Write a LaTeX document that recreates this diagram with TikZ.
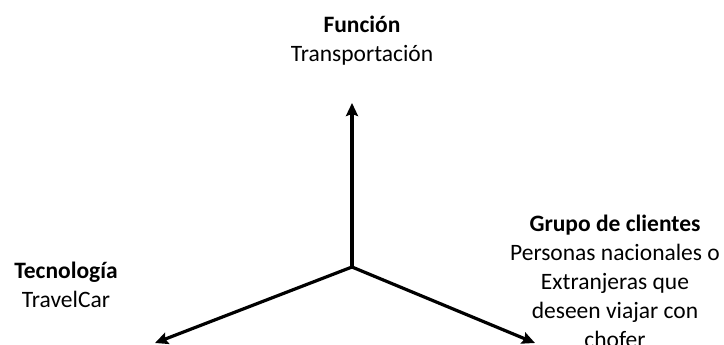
\documentclass[tikz,border=0pt]{standalone}
\usepackage{fontspec}
\setmainfont{Carlito}
\usetikzlibrary{
  arrows.meta,
  positioning,  % Function "of" (e.g. [right=of x])
}
\tikzset{
  x=1pt,
  y=-1pt,
  >={Stealth[length=13pt,width=12pt,inset=2pt]},
  axis/.style={
    ->,
    line width=3.2pt
  },
  label box/.style={
    align=center,
    inner sep=0pt,
    anchor=base,  % baseline of the last line
    font=\fontsize{23.5}{29}\selectfont
  }
}
\begin{document}
\begin{tikzpicture}
\useasboundingbox (0,0) rectangle (724,345);
\coordinate (c)     at (352,267);
\coordinate (up)    at (352,103);
\coordinate (left)  at (155,343);
\coordinate (right) at (535,343);
\node[label box] (funcion)    at (362,62)  {\textbf{Función}\\Transportación};
\node[label box] (tecnologia) at (66,307)  {\textbf{Tecnología}\\TravelCar};
\node[label box] (clientes)   at (615,347) {\textbf{Grupo de clientes}\\Personas nacionales o\\Extranjeras que\\deseen viajar con\\chofer};
\draw[axis] (c) -- (up);
\draw[axis] (c) -- (left);
\draw[axis] (c) -- (right);
\end{tikzpicture}
\end{document}
